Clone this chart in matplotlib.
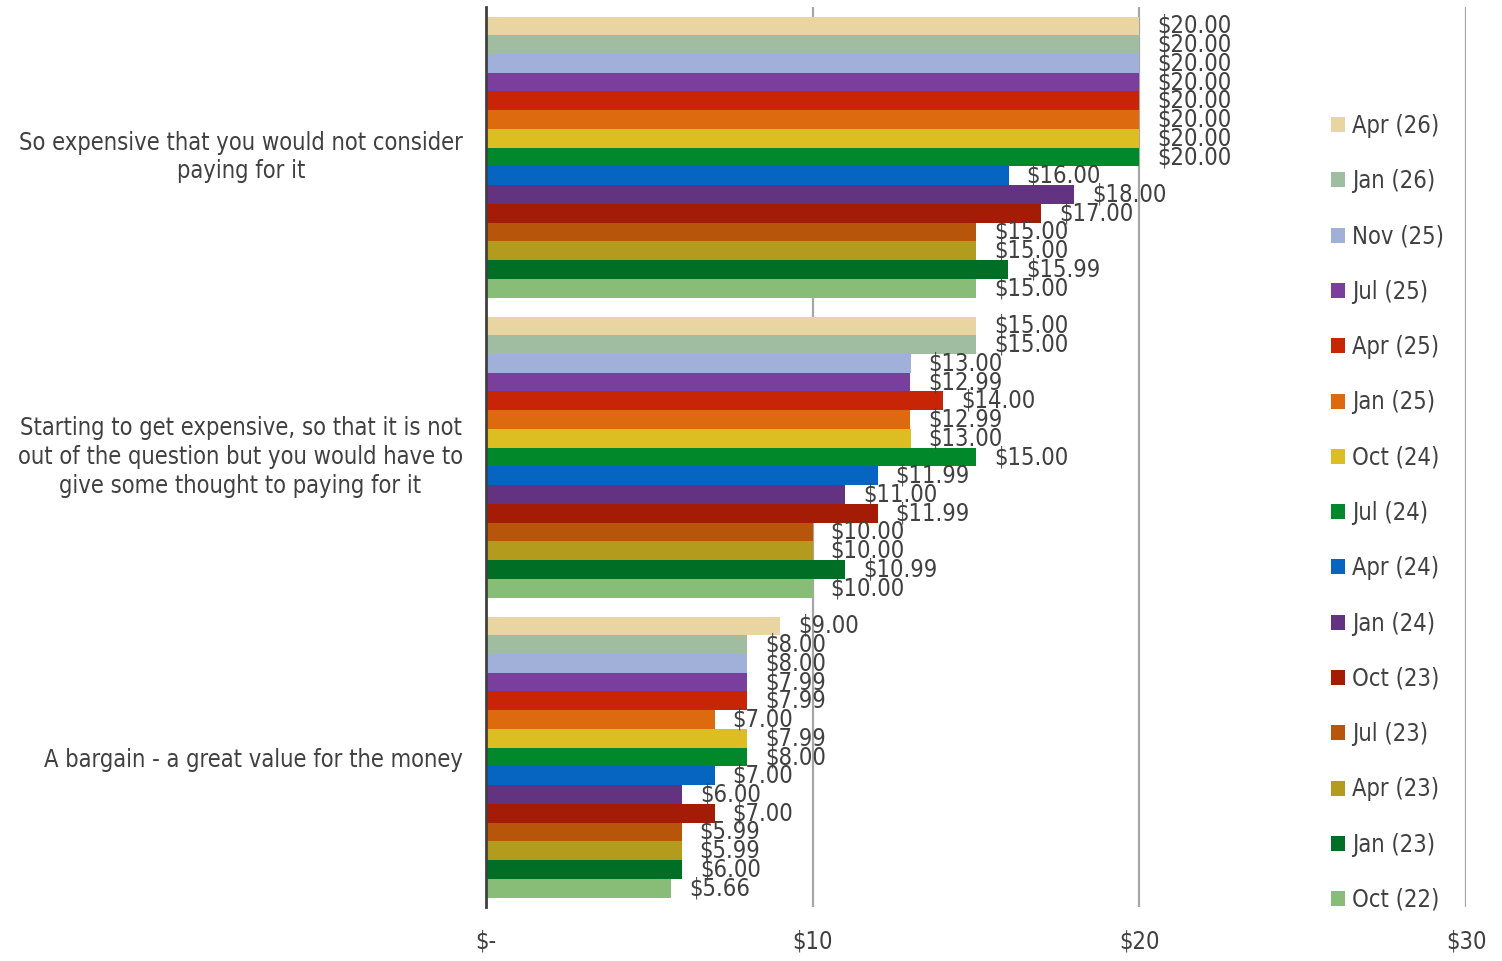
import matplotlib
matplotlib.use("Agg")
import matplotlib.pyplot as plt
import numpy as np

categories = [
    "So expensive that you would not consider\npaying for it",
    "Starting to get expensive, so that it is not\nout of the question but you would have to\ngive some thought to paying for it",
    "A bargain - a great value for the money",
]
series_names = ["Apr (26)", "Jan (26)", "Nov (25)", "Jul (25)", "Apr (25)", "Jan (25)",
                "Oct (24)", "Jul (24)", "Apr (24)", "Jan (24)", "Oct (23)", "Jul (23)",
                "Apr (23)", "Jan (23)", "Oct (22)"]
too_expensive = [20, 20, 20, 20, 20, 20, 20, 20, 16, 18, 17, 15, 15, 15.99, 15]
getting_expensive = [15, 15, 13, 12.99, 14, 12.99, 13, 15, 11.99, 11, 11.99, 10, 10, 10.99, 10]
bargain = [9, 8, 8, 7.99, 7.99, 7, 7.99, 8, 7, 6, 7, 5.99, 5.99, 6, 5.66]
colors = ["#E8D5A2", "#A0BDA2", "#A0B0D8", "#7A3F9C", "#C82506", "#DE6A10",
          "#DCBE22", "#00882B", "#0665C0", "#633280", "#A41C06", "#B7550B",
          "#B39B1E", "#006E24", "#88BD78"]
xticks = [0, 10, 20, 30]
xtick_labels = ["$-", "$10", "$20", "$30"]

values = np.array([too_expensive, getting_expensive, bargain])  # cat x series

TXT = "#404040"
plt.rcParams["font.family"] = ["DejaVu Sans"]
plt.rcParams["font.stretch"] = "condensed"
FS = 17

fig = plt.figure(figsize=(15.02, 9.61), dpi=100)
ax = fig.add_axes([486 / 1502, 1 - 907 / 961, (1466 - 486) / 1502, 900 / 961])

n = len(series_names)
group_h = 281 / 300
bh = group_h / n
cat_pos = np.arange(len(categories))
handles = []
for i, (name, col) in enumerate(zip(series_names, colors)):
    y = cat_pos - group_h / 2 + bh * (i + 0.5)
    b = ax.barh(y, values[:, i], height=bh, color=col, label=name, zorder=2, linewidth=0)
    handles.append(b)
    for yy, v in zip(y, values[:, i]):
        ax.annotate(f"${v:.2f}", (v, yy), xytext=(13, 0), textcoords="offset points",
                    ha="left", va="center", fontsize=FS, color=TXT, zorder=3)

ax.set_ylim(2.5, -0.5)
ax.set_xlim(0, 30)
ax.set_xticks(xticks)
ax.set_xticklabels(xtick_labels)
ax.set_yticks(cat_pos)
ax.set_yticklabels(categories, multialignment="center", linespacing=1.25)
ax.tick_params(axis="both", length=0, labelsize=FS, labelcolor=TXT)
ax.tick_params(axis="y", pad=16.5)
ax.tick_params(axis="x", pad=16)
for lbl in ax.get_yticklabels():
    if "\n" in lbl.get_text():
        lbl.set_verticalalignment("center")
        lbl.set_y(lbl.get_position()[1])
for s in ["top", "right", "bottom"]:
    ax.spines[s].set_visible(False)
ax.spines["left"].set_color("#404040")
ax.spines["left"].set_linewidth(2)
ax.spines["left"].set_zorder(4)
ax.xaxis.grid(True, color="#A6A6A6", linewidth=1.6, zorder=0)
ax.set_axisbelow(True)

leg = fig.legend(handles=handles, labels=series_names, loc="center left",
                 bbox_to_anchor=(1331 / 1502, 1 - 513 / 961), frameon=False,
                 fontsize=FS, handlelength=0.6, handleheight=0.6, handletextpad=0.3,
                 labelspacing=1.325, borderpad=0, borderaxespad=0)
for t in leg.get_texts():
    t.set_color(TXT)

fig.savefig("out.png", dpi=100)
